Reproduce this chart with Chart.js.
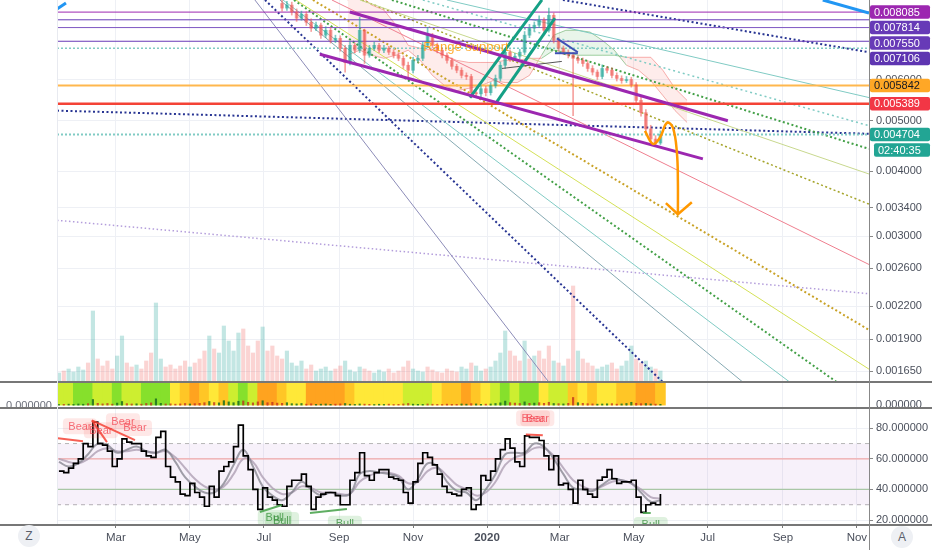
<!DOCTYPE html>
<html>
<head>
<meta charset="utf-8">
<script src="https://cdn.jsdelivr.net/npm/chart.js@4.4.1/dist/chart.umd.min.js"></script>
<style>
  html, body { margin: 0; padding: 0; background: #fff; }
  #wrap { position: relative; width: 932px; height: 550px; overflow: hidden; font-family: "Liberation Sans", Arial, sans-serif; }
  .pane { position: absolute; left: 0; width: 932px; }
  .line { position: absolute; background: #777; }
  .btn { position: absolute; width: 22px; height: 22px; border-radius: 50%; background: #eef0f4; color: #5a5f6b; font-size: 12px; line-height: 22px; text-align: center; }
  #leftZero { position: absolute; left: 6px; top: 399px; height: 8px; overflow: hidden; font-size: 11px; line-height: 13px; color: #6b6f7a; }
</style>
</head>
<body>
<div id="wrap">
  <div class="pane" style="top:0;height:381px"><canvas id="priceChart"></canvas></div>
  <div class="pane" style="top:381px;height:27px"><canvas id="heatChart"></canvas></div>
  <div class="pane" style="top:408px;height:142px"><canvas id="rsiChart"></canvas></div>
  <div id="leftZero">0.000000</div>
  <div class="line" style="left:0;top:381px;width:932px;height:2px"></div>
  <div class="line" style="left:0;top:407px;width:932px;height:2px"></div>
  <div class="line" style="left:0;top:524px;width:932px;height:1.5px"></div>
  <div class="line" style="left:57px;top:0;width:1px;height:524px;background:#e8eaf0"></div>
  <div class="line" style="left:868.5px;top:0;width:1.5px;height:550px;background:#888"></div>
  <div class="btn" style="left:18px;top:525px">Z</div>
  <div class="btn" style="left:891px;top:526px">A</div>
</div>
<script>
const FONT = '"Liberation Sans", Arial, sans-serif';
const GRID = '#eef0f5';

// time axis: days counted from 1 Jan 2019
const DAY_MIN = 10.4;
const DAY_MAX = 680;
const monthDays = [59, 120, 181, 243, 304, 365, 425, 486, 547, 609, 670];
const monthLabels = ['Mar', 'May', 'Jul', 'Sep', 'Nov', '2020', 'Mar', 'May', 'Jul', 'Sep', 'Nov'];

// price axis (log)
const PRICE_MIN = 0.00158;
const PRICE_MAX = 0.00853;
const priceTicks = [0.00165, 0.0019, 0.0022, 0.0026, 0.003, 0.0034, 0.004, 0.005, 0.006];

// candles every 4 days from day 196, prices in units of 0.001
const candleStart = 196, candleStep = 4;
const opens = [8.40,8.23,8.34,8.09,7.87,8.01,7.73,7.53,7.63,7.30,
  7.46,7.14,7.20,6.89,6.47,6.98,6.83,7.46,6.68,6.89,
  6.98,6.83,6.89,6.77,6.68,6.59,6.39,6.25,6.53,6.59,
  6.98,7.30,6.98,6.83,6.68,6.53,6.36,6.25,6.11,6.08,
  5.66,5.63,5.76,5.66,5.84,6.03,6.39,6.77,6.59,6.65,
  6.77,7.30,7.53,7.63,7.80,7.46,7.97,7.14,6.89,6.77,
  6.68,6.59,6.53,6.44,6.30,6.20,6.08,6.30,6.25,6.11,
  6.03,5.97,6.00,5.86,5.47,5.18,4.82,4.61,4.53];
const highs = [8.55,8.48,8.45,8.20,8.12,8.10,7.85,7.74,7.70,7.58,
  7.55,7.30,7.28,6.98,7.10,7.05,7.90,7.50,6.98,7.08,
  7.04,6.98,6.95,6.85,6.76,6.66,6.48,6.62,6.68,7.08,
  7.56,7.36,7.05,6.90,6.75,6.60,6.42,6.32,6.18,6.14,
  5.74,5.84,5.82,5.92,6.12,6.48,6.88,6.84,6.74,6.86,
  7.42,7.66,7.74,7.95,7.88,8.23,8.05,7.22,6.96,6.84,
  6.76,6.66,6.60,6.52,6.38,6.26,6.40,6.36,6.32,6.18,
  6.10,6.08,6.06,5.92,5.55,5.25,4.90,4.68,4.78];
const lows = [8.12,8.15,7.98,7.76,7.80,7.62,7.42,7.45,7.20,7.22,
  7.05,7.06,6.80,6.20,6.40,6.75,6.76,6.44,6.62,6.82,
  6.76,6.76,6.70,6.60,6.52,6.30,6.05,6.18,6.46,6.52,
  6.90,6.90,6.75,6.60,6.45,6.28,6.18,6.04,6.00,5.54,
  5.55,5.56,5.58,5.60,5.78,5.96,6.30,6.50,6.52,6.58,
  6.70,7.22,7.45,7.55,7.36,7.40,7.05,6.80,6.70,6.60,
  5.11,6.45,6.36,6.22,6.12,6.00,6.02,6.18,6.04,5.96,
  5.90,5.92,5.80,5.40,5.10,4.75,4.54,4.47,4.50];
const closes = [8.23,8.34,8.09,7.87,8.01,7.73,7.53,7.63,7.30,7.46,
  7.14,7.20,6.89,6.47,6.98,6.83,7.46,6.68,6.89,6.98,
  6.83,6.89,6.77,6.68,6.59,6.39,6.25,6.53,6.59,6.98,
  7.30,6.98,6.83,6.68,6.53,6.36,6.25,6.11,6.08,5.66,
  5.63,5.76,5.66,5.84,6.03,6.39,6.77,6.59,6.65,6.77,
  7.30,7.53,7.63,7.80,7.46,7.97,7.14,6.89,6.77,6.68,
  6.59,6.53,6.44,6.30,6.20,6.08,6.30,6.25,6.11,6.03,
  5.97,6.00,5.86,5.47,5.18,4.82,4.61,4.53,4.704];

// volume and RSI every 4 days from day 12
const volStart = 12, volStep = 4;
const volume = [8,10,12,9,14,11,18,70,22,15,
  20,12,25,45,18,14,16,12,20,28,
  78,22,14,16,12,15,20,14,18,22,
  30,45,32,28,55,40,30,48,52,35,
  28,40,54,30,35,25,22,30,18,15,
  20,12,16,10,12,14,10,12,15,20,
  11,9,14,12,10,8,11,9,12,8,
  10,14,20,12,10,9,14,11,9,8,
  12,10,9,14,12,18,15,10,12,14,
  20,28,50,30,25,20,40,22,25,30,
  22,35,20,18,15,22,95,30,22,18,
  15,12,14,16,18,12,15,20,35,22,
  18,20,14,12,10];
const rsi = [52,51,54,57,60,70,68,84,70,69,
  65,55,60,73,71,70,70,65,62,61,
  74,78,55,48,45,37,36,44,38,35,
  29,42,35,52,55,58,68,82,62,53,
  40,27,41,35,33,30,29,42,46,46,
  50,42,27,35,37,38,38,36,30,30,
  46,51,64,49,46,51,53,53,48,47,
  46,38,31,45,57,64,61,56,50,42,
  38,37,36,40,41,27,30,49,46,52,
  60,66,73,67,58,55,75,74,74,72,
  62,53,62,43,44,40,31,46,40,37,
  35,46,48,53,47,44,45,45,46,35,
  25,30,31,30,37];

// RSI smoothing lines and heat strip every 8 days from day 12
const slowStart = 12, slowStep = 8;
const rsiFast = [58,55,57,63,70,69,64,66,68,65,
  64,66,58,48,42,38,38,44,56,66,
  55,42,36,33,38,45,40,36,38,36,
  37,50,52,51,50,48,40,47,57,55,
  45,39,38,33,40,50,63,64,64,70,
  68,60,50,41,40,39,43,47,46,44,
  38,32,33];
const rsiSlow = [60,58,57,60,65,67,65,65,66,65,
  64,65,61,54,47,42,40,42,50,60,
  58,48,41,37,38,42,41,38,38,37,
  37,45,49,51,51,49,44,45,52,54,
  49,43,40,36,38,45,56,61,63,67,
  67,62,54,46,42,40,42,45,46,44,
  40,35,34];
const heatLevels = [1,1,0,0,1,1,0,1,1,0,
  0,0,2,3,4,3,2,3,1,0,
  1,4,4,3,2,2,4,4,4,4,
  3,2,2,2,2,2,1,1,1,2,
  3,3,4,3,2,1,0,1,0,0,
  2,1,1,3,2,3,2,2,3,3,
  4,4,3];
const rsiLevels = [70, 60, 40, 30];
const rsiTicks = [20, 40, 60, 80];

// ichimoku cloud every 10 days from day 250 (prices x0.001)
const cloudStart = 250, cloudStep = 10;
const spanA = [6.68,6.83,6.68,6.59,6.68,6.83,6.53,6.11,5.84,5.71,5.77,5.84,5.97,5.92,5.92,6.11,6.68,7.30,7.46,7.46,7.40,7.14,6.83,6.39,6.25,5.97,5.59,5.23,4.96];
const spanB = [8.53,8.72,8.34,8.16,7.63,6.98,6.89,6.83,6.68,6.53,6.47,6.47,6.47,6.53,6.53,6.59,6.59,6.83,6.77,6.68,6.68,6.68,6.68,6.62,6.62,6.62,6.25,5.77,5.47];

// horizontal levels and price tags (x0.001)
const levelPrices = [8.085, 7.814, 7.550, 7.106, 6.890, 5.842, 5.389, 4.704];
const tagPrices = [8.085, 7.814, 7.550, 7.106, 5.842, 5.389, 4.704];
const countdown = '02:40:35';

// fan / trend lines as [day, price x0.001]
const fanFrom = [[331.9,8.531],[312.1,8.531],[286.6,8.531],[260.2,8.531],[261.8,8.531],[237.1,8.531],[221.4,8.531],[207.4,8.531],[205.8,8.531],[196.7,8.531],[194.2,8.531],[181.9,8.531],[173.6,8.531],[10.4,3.218],[10.4,5.228],[427.6,8.531]];
const fanTo = [[680,5.539],[680,4.890],[680,4.414],[680,3.949],[680,3.456],[680,2.646],[680,1.981],[680,1.665],[653.5,1.572],[614.7,1.572],[576.0,1.572],[510.0,1.572],[416.0,1.572],[680,2.325],[680,4.719],[680,6.768]];
const channelUpper = [[251.9,8.087],[563.6,5.000]];
const channelLower = [[227.2,6.708],[543.0,4.222]];
const risingUpper = [[350.9,5.539],[410.3,8.531]];
const risingLower = [[373.2,5.441],[421.0,7.874]];
const triangleTop = [[422.6,7.20],[439.9,6.768]];
const triangleBase = [[421.0,6.74],[439.9,6.74]];
const pointerLine = [[377.3,6.30],[426.7,6.50]];
const blueLeft = [[10.4,8.196],[17.8,8.418]];
const blueRight = [[641.9,8.531],[680,8.051]];
const projection = [[495.2,4.78],[501.8,4.514],[507.6,4.636],[513.4,4.956],[518.3,4.847],[521.6,4.336],[522.4,3.828],[522.4,3.305]];
const arrowHead = [[512.5,3.471],[522.4,3.305],[533.9,3.486]];
const rangeNote = { day: 312.5, price: 6.92, text: 'Range support' };

// RSI divergence marks as [day, rsi]
const bearLines = [[[11.2,73.5],[31.8,71.5]], [[39.2,85.2],[51.6,70.9]], [[39.2,85.2],[74.7,72.2]], [[397,76],[411,75.4]]];
const bullLines = [[[177.7,25.2],[195.9,29.8]], [[219,24.6],[249.5,27.2]], [[493.5,24.6],[500,24.6]]];
const bearTags = [[29.3,81.3],[46.6,78.7],[64.8,84.6],[74.7,80.2],[403,86.5],[406.5,86.5]];
const bullTags = [[190,21.5],[196,20],[247.8,17.6],[500,16.8]];

// ---------- styles ----------
const upCol = 'rgba(38,166,154,0.6)';
const downCol = 'rgba(239,83,80,0.55)';
const heatPalette = ['#86e02c', '#cdee30', '#ffe838', '#ffc626', '#ffa31f'];
const fanStyles = [
  ['#80cbc4', 1, []], ['#80cbc4', 1.5, [2, 3]], ['#43a047', 2, [2, 2.5]], ['#c8d88e', 1, []],
  ['#a5a42a', 1.5, [2, 2.5]], ['#ef7f8f', 1, []], ['#c9a227', 2, [2, 2.5]], ['#d4e157', 1, []],
  ['#43a047', 2, [2, 2.5]], ['#80cbc4', 1, []], ['#86aab3', 1, []], ['#283593', 2, [2, 2.5]],
  ['#8c8cb8', 1, []], ['#b39ddb', 1.5, [1.5, 2.5]], ['#283593', 2, [2, 2.5]], ['#283593', 2, [2, 2.5]]
];
const levelStyles = [
  ['#9c27b0', 1, []], ['#673ab7', 1, []], ['#7e57c2', 1, []], ['#673ab7', 1.2, []],
  ['#80cbc4', 1.5, [2, 2]], ['#ffb74d', 2, []], ['#f44336', 2.5, []], ['#80cbc4', 2, [2, 2]]
];
const tagColors = ['#9c27b0', '#673ab7', '#673ab7', '#5e35b1', '#ffa726', '#f23645', '#22a594'];
const tagText = ['#fff', '#fff', '#fff', '#fff', '#131722', '#fff', '#fff'];

const m = p => p / 1000;
const seg = (pts, color, width, dash, order, extra) => Object.assign({
  type: 'line', xAxisID: 'x', yAxisID: 'y',
  data: pts.map(([d, p]) => ({ x: d, y: m(p) })),
  borderColor: color, borderWidth: width, borderDash: dash || [],
  pointRadius: 0, fill: false, tension: 0, order: order
}, extra || {});

const candleDays = closes.map((_, i) => candleStart + i * candleStep);
const volDays = volume.map((_, i) => volStart + i * volStep);
const slowDays = rsiFast.map((_, i) => slowStart + i * slowStep);
const cloudDays = spanA.map((_, i) => cloudStart + i * cloudStep);
const candleCols = closes.map((c, i) => c >= opens[i] ? upCol : downCol);
const volUp = rsi.map((v, i) => i === 0 || v >= rsi[i - 1]);

function xScale(showLabels) {
  return {
    type: 'linear', min: DAY_MIN, max: DAY_MAX, offset: false, bounds: 'data',
    grid: { color: GRID, offset: false, drawTicks: showLabels, tickLength: 4, tickColor: '#777' },
    border: { display: false },
    afterBuildTicks: s => { s.ticks = monthDays.map(v => ({ value: v })); },
    ticks: {
      display: showLabels, autoSkip: false, maxRotation: 0, padding: 3, color: '#4b505c',
      font: c => ({ family: FONT, size: 11.5, weight: monthLabels[c.index] === '2020' ? 'bold' : 'normal' }),
      callback: (v, i) => monthLabels[i]
    },
    afterFit: s => { s.height = showLabels ? 26 : 0; s.paddingLeft = 0; s.paddingRight = 0; }
  };
}
const fixY = s => { s.width = 63; s.paddingTop = 0; s.paddingBottom = 0; };
const baseOptions = {
  responsive: true, maintainAspectRatio: false, animation: false, events: [],
  plugins: { legend: { display: false }, tooltip: { enabled: false } }
};

// ---------- plugins ----------
const priceTagPlugin = {
  id: 'priceTags',
  afterDraw(chart) {
    const { ctx, scales: { y } } = chart;
    const left = chart.chartArea.right + 1, w = 60, h = 13.5, step = 15.5;
    ctx.save();
    ctx.font = '11px ' + FONT;
    ctx.textBaseline = 'middle';
    const items = tagPrices.map((p, i) => ({ y: y.getPixelForValue(m(p)), text: m(p).toFixed(6), bg: tagColors[i], fg: tagText[i], inset: 0 }));
    items.push({ y: -Infinity, text: countdown, bg: '#22a594', fg: '#fff', inset: 4 });
    let prev = -Infinity;
    items.forEach(it => {
      const cy = Math.max(it.y, prev + step);
      prev = cy;
      const x0 = left + it.inset;
      ctx.fillStyle = it.bg;
      ctx.beginPath();
      if (ctx.roundRect) ctx.roundRect(x0, cy - h / 2, w - it.inset, h, 2); else ctx.rect(x0, cy - h / 2, w - it.inset, h);
      ctx.fill();
      ctx.fillStyle = it.fg;
      ctx.fillText(it.text, x0 + 4, cy + 0.5);
    });
    ctx.restore();
  }
};
const notePlugin = {
  id: 'note',
  afterDatasetsDraw(chart) {
    const { ctx, scales: { x, y } } = chart;
    ctx.save();
    ctx.font = '13px ' + FONT;
    ctx.textBaseline = 'middle';
    ctx.fillStyle = 'rgba(255,152,0,0.8)';
    ctx.fillText(rangeNote.text, x.getPixelForValue(rangeNote.day), y.getPixelForValue(m(rangeNote.price)));
    ctx.restore();
  }
};
const rsiMarkPlugin = {
  id: 'rsiMarks',
  afterDatasetsDraw(chart) {
    const { ctx, chartArea: a, scales: { x, y } } = chart;
    const px = p => [x.getPixelForValue(p[0]), y.getPixelForValue(p[1])];
    ctx.save();
    ctx.beginPath(); ctx.rect(a.left, a.top, a.width, a.height); ctx.clip();
    const lines = (list, color) => {
      ctx.strokeStyle = color; ctx.lineWidth = 2;
      list.forEach(([p0, p1]) => {
        const [x0, y0] = px(p0), [x1, y1] = px(p1);
        ctx.beginPath(); ctx.moveTo(x0, y0); ctx.lineTo(x1, y1); ctx.stroke();
      });
    };
    lines(bearLines, 'rgba(244,67,54,0.85)');
    lines(bullLines, 'rgba(67,160,71,0.85)');
    ctx.font = '11px ' + FONT;
    ctx.textAlign = 'center'; ctx.textBaseline = 'middle';
    const tags = (list, bg, fg, text) => list.forEach(p => {
      const [cx, cy] = px(p);
      ctx.fillStyle = bg;
      ctx.beginPath();
      if (ctx.roundRect) ctx.roundRect(cx - 17, cy - 8, 34, 16, 4); else ctx.rect(cx - 17, cy - 8, 34, 16);
      ctx.fill();
      ctx.fillStyle = fg;
      ctx.fillText(text, cx, cy + 0.5);
    });
    tags(bearTags, 'rgba(244,67,54,0.12)', 'rgba(242,54,69,0.7)', 'Bear');
    tags(bullTags, 'rgba(76,175,80,0.18)', 'rgba(56,142,60,0.8)', 'Bull');
    ctx.restore();
  }
};

// ---------- price pane ----------
const cloudFill = { pink: 'rgba(244,67,54,0.10)', green: 'rgba(76,175,80,0.12)' };
const cloudEdge = ctx => spanA[ctx.p0DataIndex] >= spanB[ctx.p0DataIndex] ? 'rgba(67,160,71,0.5)' : 'rgba(239,83,80,0.45)';
const priceSets = [
  { type: 'bar', label: 'Volume', xAxisID: 'x', yAxisID: 'yVol', order: 100, grouped: false, barThickness: 3.5,
    data: volume.map((v, i) => ({ x: volDays[i], y: v })),
    backgroundColor: volUp.map(u => u ? 'rgba(38,166,154,0.28)' : 'rgba(239,83,80,0.25)') },
  { type: 'line', label: 'Span A', xAxisID: 'x', yAxisID: 'y', order: 90, pointRadius: 0, borderWidth: 1, fill: false,
    data: spanA.map((v, i) => ({ x: cloudDays[i], y: m(v) })), segment: { borderColor: cloudEdge } },
  { type: 'line', label: 'Span B', xAxisID: 'x', yAxisID: 'y', order: 89, pointRadius: 0, borderWidth: 1,
    data: spanB.map((v, i) => ({ x: cloudDays[i], y: m(v) })), segment: { borderColor: cloudEdge },
    fill: { target: '-1', above: cloudFill.pink, below: cloudFill.green } }
];
fanFrom.forEach((p, i) => priceSets.push(seg([p, fanTo[i]], fanStyles[i][0], fanStyles[i][1], fanStyles[i][2], 80)));
levelPrices.forEach((p, i) => priceSets.push(seg([[DAY_MIN, p], [DAY_MAX, p]], levelStyles[i][0], levelStyles[i][1], levelStyles[i][2], 70)));
priceSets.push(
  { type: 'bar', label: 'Wicks', xAxisID: 'x', yAxisID: 'y', order: 51, grouped: false, barThickness: 1,
    data: candleDays.map((d, i) => ({ x: d, y: [m(lows[i]), m(highs[i])] })), backgroundColor: candleCols },
  { type: 'bar', label: 'Bodies', xAxisID: 'x', yAxisID: 'y', order: 50, grouped: false, barThickness: 3,
    data: candleDays.map((d, i) => ({ x: d, y: [m(opens[i]), m(closes[i])] })), backgroundColor: candleCols },
  seg(channelUpper, '#9c27b0', 3, [], 10),
  seg(channelLower, '#9c27b0', 3, [], 10),
  seg(risingUpper, '#15a085', 3, [], 10),
  seg(risingLower, '#15a085', 3, [], 10),
  seg(triangleTop, '#3f51b5', 2, [], 10),
  seg(triangleBase, '#3f51b5', 2, [], 10),
  seg(pointerLine, '#555', 1, [], 10),
  seg(blueLeft, '#2196f3', 3, [], 10),
  seg(blueRight, '#2196f3', 3, [], 10),
  seg(projection, '#ff9800', 2.5, [], 5, { tension: 0.4 }),
  seg(arrowHead, '#ff9800', 2.5, [], 5)
);

new Chart(document.getElementById('priceChart'), {
  type: 'bar',
  data: { datasets: priceSets },
  options: Object.assign({}, baseOptions, {
    layout: { padding: { left: 57, right: 0, top: 0, bottom: 0 } },
    scales: {
      x: xScale(false),
      y: {
        type: 'logarithmic', position: 'right', min: PRICE_MIN, max: PRICE_MAX, bounds: 'data', beginAtZero: false,
        grid: { color: GRID, drawTicks: true, tickLength: 4, tickColor: '#888' },
        border: { display: false },
        afterBuildTicks: s => { s.ticks = priceTicks.map(v => ({ value: v })); },
        ticks: { autoSkip: false, padding: 3, color: '#4b505c', font: { family: FONT, size: 11 }, callback: v => Number(v).toFixed(6) },
        afterFit: fixY
      },
      yVol: { type: 'linear', display: false, min: 0, max: 381 }
    }
  }),
  plugins: [notePlugin, priceTagPlugin]
});

// ---------- heat strip ----------
new Chart(document.getElementById('heatChart'), {
  type: 'bar',
  data: { datasets: [
    { label: 'Spikes', xAxisID: 'x', yAxisID: 'ySpike', order: 1, grouped: false, barThickness: 1.5,
      data: volume.map((v, i) => ({ x: volDays[i], y: v })),
      backgroundColor: volUp.map(u => u ? 'rgba(27,110,32,0.85)' : 'rgba(190,40,30,0.75)') },
    { label: 'Heat', xAxisID: 'x', yAxisID: 'yHeat', order: 2, grouped: false, barThickness: 10,
      data: heatLevels.map((l, i) => ({ x: slowDays[i], y: [0, 0.92] })),
      backgroundColor: heatLevels.map(l => heatPalette[l]) }
  ] },
  options: Object.assign({}, baseOptions, {
    layout: { padding: { left: 57, right: 0, top: 0, bottom: 0 } },
    scales: {
      x: xScale(false),
      yHeat: {
        type: 'linear', position: 'right', min: -0.12, max: 1, bounds: 'data',
        grid: { display: false, drawTicks: true, tickLength: 4, tickColor: '#888' },
        border: { display: false },
        afterBuildTicks: s => { s.ticks = [{ value: 0 }]; },
        ticks: { padding: 3, color: '#4b505c', font: { family: FONT, size: 11 }, callback: v => Number(v).toFixed(6) },
        afterFit: fixY
      },
      ySpike: { type: 'linear', display: false, min: -36, max: 300 }
    }
  })
});

// ---------- RSI pane ----------
const flat = v => [{ x: DAY_MIN, y: v }, { x: DAY_MAX, y: v }];
new Chart(document.getElementById('rsiChart'), {
  type: 'line',
  data: { datasets: [
    { label: 'RSI', data: rsi.map((v, i) => ({ x: volDays[i], y: v })), borderColor: '#000', borderWidth: 1.7,
      stepped: true, pointRadius: 0, order: 1 },
    { label: 'Fast', data: rsiFast.map((v, i) => ({ x: slowDays[i], y: v })), borderColor: 'rgba(130,130,140,0.75)', borderWidth: 2,
      tension: 0.4, pointRadius: 0, order: 2 },
    { label: 'Slow', data: rsiSlow.map((v, i) => ({ x: slowDays[i], y: v })), borderColor: 'rgba(175,160,180,0.8)', borderWidth: 2,
      tension: 0.4, pointRadius: 0, order: 3 },
    { label: 'Upper', data: flat(rsiLevels[0]), borderColor: '#b5b5b5', borderWidth: 1, borderDash: [4, 4], pointRadius: 0, order: 20,
      fill: '+1', backgroundColor: 'rgba(149,80,190,0.08)' },
    { label: 'Lower', data: flat(rsiLevels[3]), borderColor: '#b5b5b5', borderWidth: 1, borderDash: [4, 4], pointRadius: 0, order: 21, fill: false },
    { label: 'Mid high', data: flat(rsiLevels[1]), borderColor: '#f2a9a9', borderWidth: 1.2, pointRadius: 0, order: 10, fill: false },
    { label: 'Mid low', data: flat(rsiLevels[2]), borderColor: '#a9c7a6', borderWidth: 1.2, pointRadius: 0, order: 10, fill: false }
  ] },
  options: Object.assign({}, baseOptions, {
    layout: { padding: { left: 57, right: 0, top: 1, bottom: 0 } },
    scales: {
      x: xScale(true),
      y: {
        type: 'linear', position: 'right', min: 17.4, max: 92.6, bounds: 'data',
        grid: { color: GRID, drawTicks: true, tickLength: 4, tickColor: '#888' },
        border: { display: false },
        afterBuildTicks: s => { s.ticks = rsiTicks.map(v => ({ value: v })); },
        ticks: { padding: 3, color: '#4b505c', font: { family: FONT, size: 11 }, callback: v => Number(v).toFixed(6) },
        afterFit: fixY
      }
    }
  }),
  plugins: [rsiMarkPlugin]
});
</script>
</body>
</html>
